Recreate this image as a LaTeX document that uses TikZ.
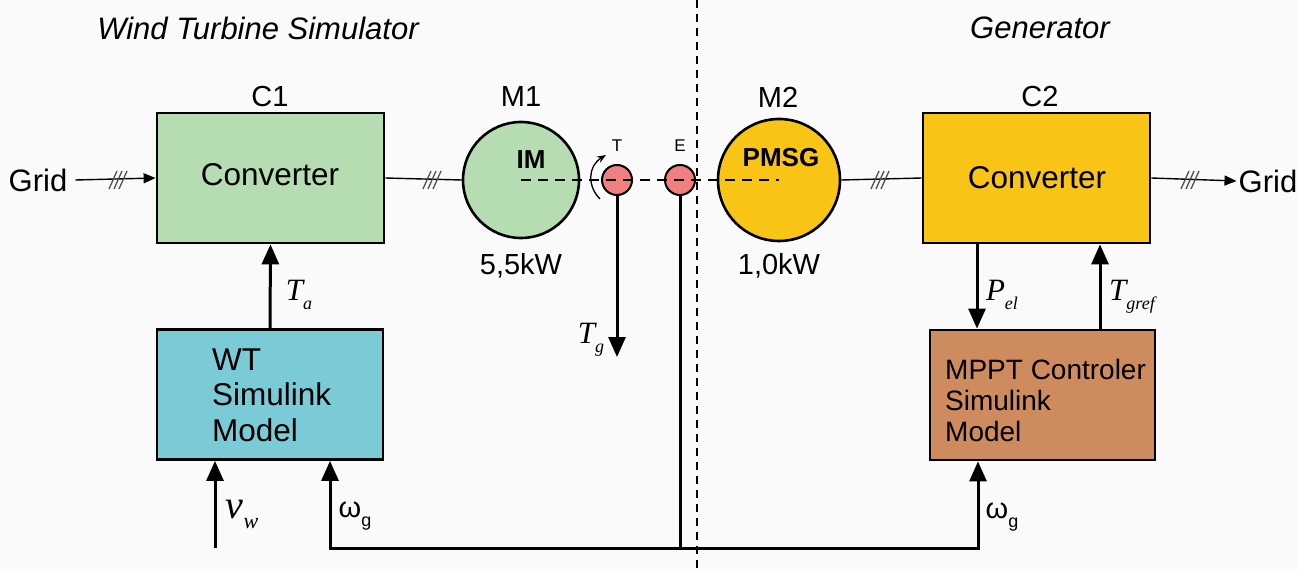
\documentclass[tikz,border=0pt]{standalone}
\usepackage{fontspec}
\setmainfont{Liberation Sans}
\newfontfamily\tms{Liberation Serif}
\usetikzlibrary{arrows.meta}
\definecolor{bgc}{RGB}{250,250,250}
\definecolor{lgreen}{RGB}{182,221,178}
\definecolor{cyanbox}{RGB}{122,203,214}
\definecolor{brownbox}{RGB}{205,139,94}
\definecolor{yel}{RGB}{248,196,22}
\definecolor{pinkc}{RGB}{240,128,128}
\definecolor{hashc}{RGB}{80,80,80}
\newcommand{\fs}[1]{\fontsize{#1}{#1}\selectfont}
\newcommand{\mysub}[3]{{\tms\itshape\fs{#1}#2\raisebox{-0.3em}{\fs{18}#3}}}
\newcommand{\myomega}{{\fs{29}ω\raisebox{-0.3em}{\fs{18}g}}}
\begin{document}
\begin{tikzpicture}[x=1pt,y=-1pt,
  box/.style={draw=black, line width=2.8pt, minimum width=#1, minimum height=130pt, inner sep=0pt},
  mcirc/.style={circle, draw=black, line width=2.6pt, minimum size=#1, inner sep=0pt},
  sensor/.style={circle, draw=black, line width=2pt, fill=pinkc, minimum size=30pt, inner sep=0pt},
  txt/.style={inner sep=0pt, font=\fs{29}},
  big/.style={inner sep=0pt, font=\fs{31.5}},
  thinl/.style={line width=1.4pt},
  thk/.style={line width=3pt},
  bigtip/.style={-{Triangle[length=20pt,width=17pt]}},
  smalltip/.style={-{Triangle[length=12pt,width=10pt]}},
  hash/.pic={\foreach \i in {-5,0,5} \draw[hashc, line width=1.3pt] (\i-4,9) -- (\i+4,-9);}
]
\fill[bgc] (0,0) rectangle (1298,569);
\useasboundingbox (0,0) rectangle (1298,569);

% divider
\draw[line width=1.2pt, dash pattern=on 8pt off 6pt] (697,0) -- (697,569);

% headings
\node[big, font=\fs{31}\itshape] (hl) at (258,28) {Wind Turbine Simulator};
\node[big, font=\fs{31}\itshape] (hr) at (1040,28) {Generator};

% blocks
\node[box=227pt, fill=lgreen] (C1) at (270.5,178) {};
\node[big] (C1t) at (270,175) {Converter};
\node[txt] (C1l) at (270,97) {C1};
\node[box=226pt, fill=cyanbox] (WT) at (270,394.5) {};
\node[big, anchor=west, align=left] (WTt) at (212,395) {WT\\[4pt]Simulink\\[4pt]Model};

\node[box=227pt, fill=yel] (C2) at (1036.5,178) {};
\node[big] (C2t) at (1037,178) {Converter};
\node[txt] (C2l) at (1040,97) {C2};
\node[box=225pt, fill=brownbox] (MP) at (1042.5,395) {};
\node[txt, anchor=west, align=left, font=\fs{28}] (MPt) at (945,400) {MPPT Controler\\[3pt]Simulink\\[3pt]Model};

% machines
\node[mcirc=116pt, fill=lgreen] (IM) at (521,180) {};
\node[txt, font=\fs{26}\bfseries] (IMt) at (531,160) {IM};
\node[txt] (M1) at (521,97) {M1};
\node[txt] (P1) at (521,266) {5,5kW};
\node[mcirc=122pt, fill=yel] (PMSG) at (779,180) {};
\node[txt, font=\fs{26}\bfseries] (PMt) at (781,158) {PMSG};
\node[txt] (M2) at (778,97) {M2};
\node[txt] (P2) at (779,266) {1,0kW};

% sensors
\node[sensor] (Tc) at (617,180) {};
\node[sensor] (Ec) at (680,180) {};
\node[txt, font=\fs{17}] (Tl) at (617,146) {T};
\node[txt, font=\fs{17}] (El) at (680,146) {E};

% shaft
\draw[line width=2pt, dash pattern=on 10pt off 7pt] (IM.center) -- (PMSG.center);
% rotation arrow
\draw[line width=1.3pt, -{Stealth[length=9pt,width=7pt]}] (600,199) .. controls (587,186) and (588,166) .. (606,155);

% grid lines
\node[big, font=\fs{31}] (gridL) at (38,180) {Grid};
\node[big, font=\fs{31}] (gridR) at (1268,181) {Grid};
\draw[thinl, smalltip] (gridL.east) ++(8,0) coordinate (gL) (gL) -- (C1.west);
\pic at (118,180) {hash};
\draw[thinl] (C1.east) -- (IM.west);
\pic at (432,180) {hash};
\draw[thinl] (PMSG.east) -- (C2.west);
\pic at (880,180) {hash};
\draw[thinl, smalltip] (C2.east) -- ([xshift=-2pt]gridR.west);
\pic at (1190,180) {hash};

% signal arrows
\draw[thk, bigtip] (WT.north) -- (C1.south);
\node[inner sep=0pt] (Ta) at (299,295) {\mysub{31}{T}{a}};
\draw[thk, bigtip] (C2.south -| 977,0) -- (MP.north -| 977,0);
\node[inner sep=0pt] (Pel) at (1002,295) {\mysub{31}{P}{el}};
\draw[thk, bigtip] (MP.north -| 1100,0) -- (C2.south -| 1100,0);
\node[inner sep=0pt] (Tgr) at (1132,297) {\mysub{31}{T}{gref}};

\coordinate (Tend) at (617,357);
\draw[thk, bigtip] (Tc.south) -- (Tend);
\node[inner sep=0pt] (Tg) at (591,340) {\mysub{31}{T}{g}};

\coordinate (jn) at (680,548);
\coordinate (vw0) at (215,548);
\draw[thk] (Ec.south) -- (jn);
\draw[thk, bigtip] (jn) -| (WT.south -| 330,0);
\draw[thk, bigtip] (jn) -| (MP.south -| 978,0);
\draw[thk, bigtip] (vw0) -- (WT.south -| 215,0);
\node[inner sep=0pt] (vw) at (242,514) {{\tms\itshape\fs{40}v\raisebox{-0.25em}{\fs{22}w}}};
\node[inner sep=0pt] (wg1) at (355,516) {\myomega};
\node[inner sep=0pt] (wg2) at (1002,517) {\myomega};
\end{tikzpicture}
\end{document}
